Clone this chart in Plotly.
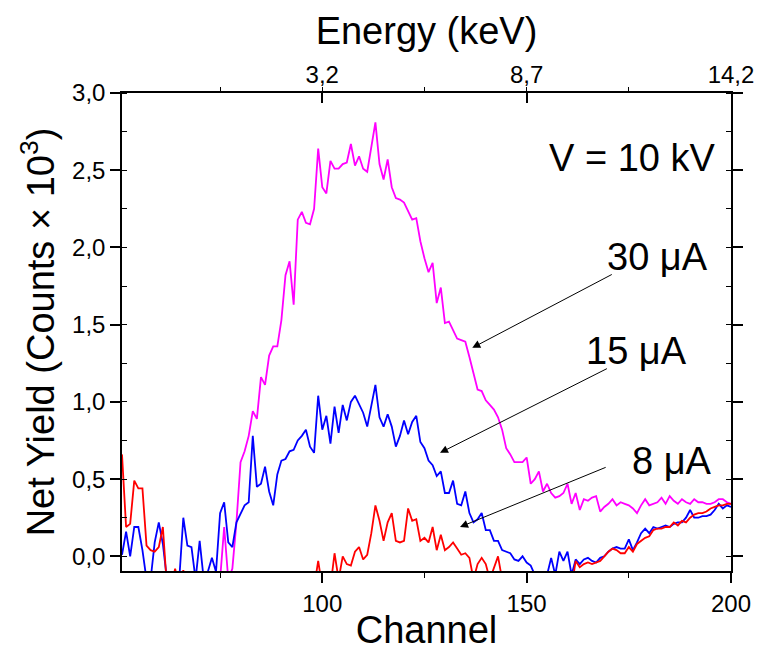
import plotly.graph_objects as go

channels = list(range(51, 201))

yield_30uA = [
    -0.2, -0.2, -0.2, -0.2, -0.2, -0.2, -0.2, -0.2, -0.2, -0.2,
    -0.2, -0.2, -0.2, -0.2, -0.2, -0.2, -0.2, -0.2, -0.2, -0.2,
    -0.2, -0.2, -0.2, -0.2, -0.15, 0.19, -0.15, -0.08, 0.22, 0.61,
    0.68, 0.78, 0.94, 0.89, 1.16, 1.11, 1.30, 1.36, 1.36, 1.53,
    1.82, 1.91, 1.63, 2.18, 2.23, 2.16, 2.15, 2.25, 2.64, 2.39,
    2.35, 2.56, 2.51, 2.51, 2.54, 2.55, 2.67, 2.53, 2.59, 2.51,
    2.49, 2.65, 2.81, 2.54, 2.44, 2.57, 2.39, 2.32, 2.31, 2.29,
    2.24, 2.18, 2.19, 2.04, 1.93, 1.84, 1.90, 1.64, 1.74, 1.51,
    1.52, 1.47, 1.41, 1.40, 1.39, 1.29, 1.18, 1.08, 1.07, 1.01,
    0.98, 0.95, 0.90, 0.82, 0.70, 0.66, 0.61, 0.61, 0.61, 0.64,
    0.47, 0.50, 0.55, 0.42, 0.47, 0.41, 0.38, 0.39, 0.41, 0.47,
    0.34, 0.41, 0.30, 0.37, 0.36, 0.38, 0.39, 0.29, 0.32, 0.34,
    0.37, 0.33, 0.35, 0.34, 0.33, 0.31, 0.28, 0.33, 0.37, 0.33,
    0.34, 0.35, 0.38, 0.34, 0.39, 0.36, 0.34, 0.37, 0.35, 0.34,
    0.37, 0.35, 0.35, 0.34, 0.34, 0.35, 0.37, 0.37, 0.35, 0.34,
]

yield_15uA = [
    0.01, 0.16, 0.00, 0.19, 0.19, 0.04, -0.15, -0.15, 0.09, 0.22,
    0.08, -0.15, -0.2, -0.2, -0.15, 0.25, 0.07, 0.06, -0.15, 0.10,
    -0.15, -0.1, -0.01, -0.1, 0.28, 0.35, 0.09, 0.06, 0.22, 0.28,
    0.33, 0.35, 0.78, 0.45, 0.47, 0.58, 0.42, 0.33, 0.53, 0.62,
    0.63, 0.68, 0.69, 0.75, 0.78, 0.82, 0.71, 0.67, 1.04, 0.82,
    0.91, 0.73, 0.97, 0.80, 0.98, 0.88, 1.00, 1.04, 0.99, 0.93,
    0.84, 0.97, 1.11, 0.90, 0.84, 0.92, 0.84, 0.71, 0.78, 0.88,
    0.79, 0.87, 0.91, 0.74, 0.70, 0.62, 0.59, 0.52, 0.55, 0.41,
    0.41, 0.49, 0.34, 0.33, 0.42, 0.28, 0.22, 0.24, 0.28, 0.17,
    0.17, 0.10, 0.10, 0.04, 0.03, 0.02, -0.02, -0.03, 0.00, -0.04,
    -0.06, -0.12, -0.15, -0.15, -0.12, -0.01, -0.12, 0.03, -0.03, 0.03,
    -0.12, -0.02, -0.05, -0.02, -0.01, -0.03, -0.04, -0.01, 0.00, 0.03,
    0.05, 0.06, 0.05, 0.05, 0.11, 0.04, 0.09, 0.15, 0.18, 0.15,
    0.19, 0.18, 0.19, 0.20, 0.19, 0.21, 0.22, 0.22, 0.25, 0.30,
    0.25, 0.25, 0.26, 0.26, 0.27, 0.30, 0.34, 0.31, 0.33, 0.32,
]

yield_8uA = [
    0.66, 0.19, 0.21, 0.49, 0.44, 0.44, 0.07, 0.04, 0.03, 0.06,
    0.19, -0.2, -0.2, -0.08, -0.2, -0.09, -0.2, -0.2, -0.2, -0.2,
    -0.2, -0.2, -0.2, -0.2, -0.2, -0.2, -0.2, -0.2, -0.2, -0.2,
    -0.2, -0.2, -0.2, -0.2, -0.2, -0.2, -0.2, -0.2, -0.2, -0.2,
    -0.2, -0.2, -0.2, -0.2, -0.2, -0.2, -0.2, -0.2, -0.03, -0.2,
    -0.2, -0.2, 0.02, -0.15, 0.00, -0.05, -0.06, 0.03, 0.06, -0.02,
    0.01, 0.15, 0.33, 0.23, 0.10, 0.22, 0.28, 0.10, 0.09, 0.10,
    0.31, 0.23, 0.24, 0.10, 0.12, 0.09, 0.19, 0.04, 0.14, 0.04,
    0.06, 0.09, 0.05, 0.01, 0.02, -0.01, -0.15, -0.05, -0.01, -0.05,
    -0.15, -0.08, 0.00, -0.15, -0.2, -0.2, -0.2, -0.2, -0.2, -0.2,
    -0.2, -0.2, -0.2, -0.2, -0.2, -0.2, -0.2, -0.2, -0.2, -0.2,
    -0.2, -0.03, -0.07, -0.05, -0.04, -0.05, -0.04, -0.03, 0.00, 0.03,
    0.05, 0.04, 0.02, 0.02, 0.06, 0.03, 0.08, 0.10, 0.12, 0.13,
    0.17, 0.18, 0.18, 0.19, 0.19, 0.22, 0.20, 0.23, 0.22, 0.25,
    0.27, 0.28, 0.28, 0.29, 0.31, 0.32, 0.33, 0.33, 0.34, 0.34,
]

channel_ticks = [100, 150, 200]
energy_ticks = ["3,2", "8,7", "14,2"]

series = [
    ("30 μA", yield_30uA, "#FF00FF"),
    ("15 μA", yield_15uA, "#0000FF"),
    ("8 μA", yield_8uA, "#FF0000"),
]

# label: (text x, text y, arrow head x, head y, tail x, tail y)
labels = [
    ("30 μA", 181.9, 1.94, 136.7, 1.35, 171.2, 1.83),
    ("15 μA", 177.0, 1.33, 128.8, 0.67, 170.0, 1.22),
    ("8 μA", 185.6, 0.62, 133.7, 0.19, 169.7, 0.58),
]

FONT = "Liberation Sans, Arial, sans-serif"
X_RANGE = [51, 200]
Y_RANGE = [-0.095, 3.0]

fig = go.Figure()
for name, vals, color in series:
    fig.add_trace(go.Scatter(x=channels, y=vals, mode="lines", name=name,
                             line=dict(color=color, width=1.8)))
# invisible trace to carry the top Energy axis
fig.add_trace(go.Scatter(x=[X_RANGE[0], X_RANGE[1]], y=[None, None], xaxis="x2",
                         mode="lines", showlegend=False, hoverinfo="skip"))

for text, tx, ty, hx, hy, sx, sy in labels:
    fig.add_annotation(x=tx, y=ty, text=text, showarrow=False,
                       font=dict(family=FONT, size=38, color="black"))
    fig.add_annotation(x=hx, y=hy, ax=sx, ay=sy, axref="x", ayref="y",
                       text="", showarrow=True, arrowhead=2, arrowsize=1.6,
                       arrowwidth=1, arrowcolor="black")
fig.add_annotation(x=175.7, y=2.58, text="V = 10 kV", showarrow=False,
                   font=dict(family=FONT, size=38, color="black"))

fig.update_layout(
    width=763, height=651,
    margin=dict(l=122, r=32, t=93, b=80),
    paper_bgcolor="white", plot_bgcolor="white",
    separators=",.",
    showlegend=False,
    font=dict(family=FONT, color="black"),
    xaxis=dict(
        range=X_RANGE, tickvals=channel_ticks, ticks="outside", ticklen=10,
        tickwidth=1.5, tickcolor="black", showline=True, linecolor="black",
        linewidth=1.5, showgrid=False, zeroline=False, automargin=False,
        tickfont=dict(size=24),
        minor=dict(dtick=25, tick0=0, ticks="outside", ticklen=5,
                   tickcolor="black", tickwidth=1.2, showgrid=False),
        title=dict(text="Channel", font=dict(size=38), standoff=2),
    ),
    xaxis2=dict(
        overlaying="x", side="top", range=X_RANGE, tickvals=channel_ticks,
        ticktext=energy_ticks, ticks="inside", ticklen=10, tickwidth=1.5,
        tickcolor="black", showline=True, linecolor="black", linewidth=1.5,
        showgrid=False, zeroline=False, automargin=False,
        tickfont=dict(size=24), ticklabelstandoff=-1,
        minor=dict(dtick=25, tick0=0, ticks="outside", ticklen=4,
                   tickcolor="black", tickwidth=1.2, showgrid=False),
        title=dict(text="Energy (keV)", font=dict(size=38), standoff=4),
    ),
    yaxis=dict(
        range=Y_RANGE, dtick=0.5, tick0=0, tickformat=".1f", ticks="outside",
        ticklen=10, tickwidth=1.5, tickcolor="black", showline=True,
        linecolor="black", linewidth=1.5, mirror="ticks", showgrid=False,
        zeroline=False, automargin=False, tickfont=dict(size=24),
        minor=dict(dtick=0.25, tick0=0, ticks="inside", ticklen=5,
                   tickcolor="black", tickwidth=1.2, showgrid=False),
        title=dict(text="Net Yield (Counts × 10<sup>3</sup>)",
                   font=dict(size=38), standoff=6),
    ),
)

fig.write_html("out.html")
